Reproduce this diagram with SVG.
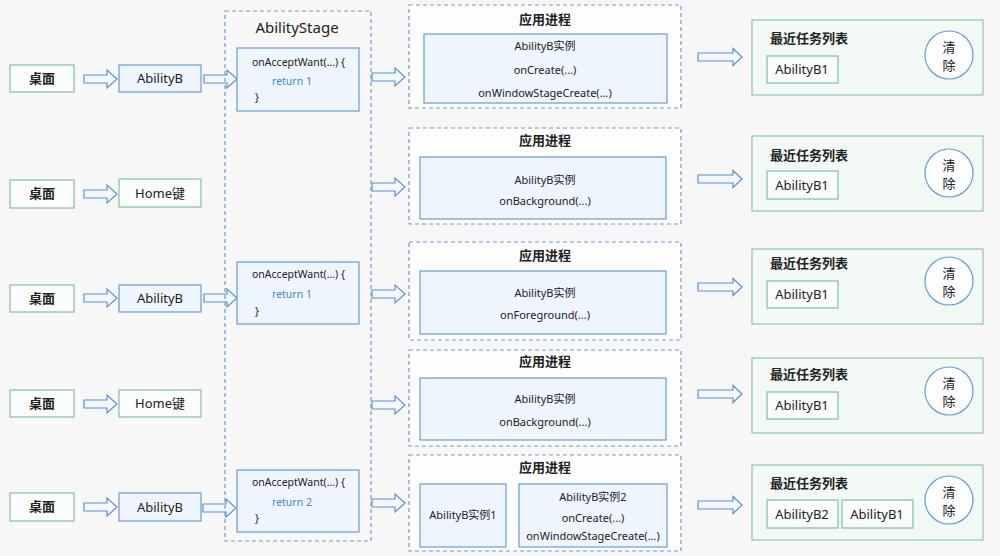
<svg xmlns="http://www.w3.org/2000/svg" width="1000" height="556" viewBox="0 0 1000 556">
<defs>
<style>
text{font-family:"Noto Sans","Noto Sans CJK SC",sans-serif;fill:#222;}
.gbox{fill:#fbfdfc;stroke:#80c0a0;stroke-width:1.2;}
.bbox{fill:#eef5fd;stroke:#6a9bd3;stroke-width:1.2;}
.sdash{fill:none;stroke:#6a9bd3;stroke-width:1.2;stroke-dasharray:4 3;}
.pdash{fill:#fdfdfe;stroke:#6a9bd3;stroke-width:1.2;stroke-dasharray:4 3;}
.rbox{fill:#f2f9f5;stroke:#8cc7aa;stroke-width:1.2;}
.tbox{fill:#f9fcfa;stroke:#7fbf9e;stroke-width:1.2;}
.circ{fill:#fbfdfe;stroke:#6a9bd3;stroke-width:1.2;}
.arr{fill:#f3f8fe;stroke:#5d90d0;stroke-width:1.2;}
.lbl{font-size:13px;text-anchor:middle;}
.cn{font-size:13px;text-anchor:middle;font-weight:600;}
.code{font-size:10.5px;}
.ret{font-size:10.5px;fill:#3f86d6;}
.ptxt{font-size:11px;text-anchor:middle;}
.ttl{font-size:13px;text-anchor:middle;font-weight:600;}
.rttl{font-size:13px;font-weight:600;}
</style>
<path id="sa" d="M0,-4 H23 V-9 L33,0 L23,9 V4 H0 Z"/>
<path id="la" d="M0,-4 H35 V-8.5 L44,0 L35,8.5 V4 H0 Z"/>
</defs>
<rect width="1000" height="556" fill="#f7f7f7"/>

<g id="connectors">
<use href="#sa" class="arr" x="84" y="79"/>
<use href="#sa" class="arr" x="84" y="194"/>
<use href="#sa" class="arr" x="84" y="298"/>
<use href="#sa" class="arr" x="84" y="404"/>
<use href="#sa" class="arr" x="84" y="507"/>
<use href="#sa" class="arr" x="204" y="79"/>
<use href="#sa" class="arr" x="204" y="298"/>
<use href="#sa" class="arr" x="203" y="508"/>
<use href="#sa" class="arr" x="372" y="77"/>
<use href="#sa" class="arr" x="372" y="187"/>
<use href="#sa" class="arr" x="372" y="294"/>
<use href="#sa" class="arr" x="372" y="405"/>
<use href="#sa" class="arr" x="372" y="503"/>
<use href="#la" class="arr" x="698" y="57"/>
<use href="#la" class="arr" x="698" y="179"/>
<use href="#la" class="arr" x="698" y="287"/>
<use href="#la" class="arr" x="698" y="394"/>
<use href="#la" class="arr" x="698" y="505"/>
</g>

<g id="desk1"><rect class="gbox" x="10" y="65" width="64" height="27"/><text class="cn" x="42" y="83">桌面</text></g>
<g id="desk2"><rect class="gbox" x="10" y="180" width="64" height="28"/><text class="cn" x="42" y="198">桌面</text></g>
<g id="desk3"><rect class="gbox" x="10" y="285" width="64" height="27"/><text class="cn" x="42" y="303">桌面</text></g>
<g id="desk4"><rect class="gbox" x="10" y="390" width="64" height="27"/><text class="cn" x="42" y="408">桌面</text></g>
<g id="desk5"><rect class="gbox" x="10" y="493" width="64" height="28"/><text class="cn" x="42" y="511">桌面</text></g>

<g id="abilityB1"><rect class="bbox" x="119" y="65" width="82" height="27"/><text class="lbl" x="160" y="83">AbilityB</text></g>
<g id="home1"><rect class="gbox" x="119" y="179" width="82" height="28"/><text class="lbl" x="160" y="198">Home键</text></g>
<g id="abilityB2"><rect class="bbox" x="119" y="285" width="82" height="27"/><text class="lbl" x="160" y="303">AbilityB</text></g>
<g id="home2"><rect class="gbox" x="119" y="390" width="82" height="27"/><text class="lbl" x="160" y="408">Home键</text></g>
<g id="abilityB3"><rect class="bbox" x="119" y="493" width="82" height="28"/><text class="lbl" x="160" y="512">AbilityB</text></g>

<g id="abilityStage">
<rect class="sdash" x="225" y="11" width="146" height="530"/>
<text x="297" y="33" style="font-size:15px;text-anchor:middle;">AbilityStage</text>
</g>
<g id="accept1"><rect class="bbox" x="237" y="48" width="122" height="63"/>
<text class="code" x="252" y="66">onAcceptWant(...) {</text><text class="ret" x="272" y="85">return 1</text><text class="code" x="255" y="101">}</text></g>
<g id="accept2"><rect class="bbox" x="237" y="262" width="122" height="62"/>
<text class="code" x="252" y="278">onAcceptWant(...) {</text><text class="ret" x="272" y="298">return 1</text><text class="code" x="255" y="315">}</text></g>
<g id="accept3"><rect class="bbox" x="237" y="470" width="122" height="62"/>
<text class="code" x="252" y="486">onAcceptWant(...) {</text><text class="ret" x="272" y="506">return 2</text><text class="code" x="255" y="522">}</text></g>

<g id="proc1"><rect class="pdash" x="409" y="5" width="272" height="103"/>
<text class="ttl" x="545" y="24">应用进程</text>
<rect class="bbox" x="424" y="34" width="243" height="69"/>
<text class="ptxt" x="545" y="50">AbilityB实例</text>
<text class="ptxt" x="545" y="74">onCreate(...)</text>
<text class="ptxt" x="545" y="97">onWindowStageCreate(...)</text></g>

<g id="proc2"><rect class="pdash" x="409" y="128" width="272" height="96"/>
<text class="ttl" x="545" y="145">应用进程</text>
<rect class="bbox" x="420" y="157" width="246" height="62"/>
<text class="ptxt" x="545" y="184">AbilityB实例</text>
<text class="ptxt" x="545" y="205">onBackground(...)</text></g>

<g id="proc3"><rect class="pdash" x="409" y="242" width="272" height="98"/>
<text class="ttl" x="545" y="260">应用进程</text>
<rect class="bbox" x="420" y="271" width="246" height="63"/>
<text class="ptxt" x="545" y="297">AbilityB实例</text>
<text class="ptxt" x="545" y="319">onForeground(...)</text></g>

<g id="proc4"><rect class="pdash" x="409" y="350" width="272" height="96"/>
<text class="ttl" x="545" y="366">应用进程</text>
<rect class="bbox" x="420" y="378" width="246" height="62"/>
<text class="ptxt" x="545" y="403">AbilityB实例</text>
<text class="ptxt" x="545" y="426">onBackground(...)</text></g>

<g id="proc5"><rect class="pdash" x="409" y="455" width="272" height="96"/>
<text class="ttl" x="545" y="472">应用进程</text>
<rect class="bbox" x="420" y="484" width="86" height="63"/>
<text class="ptxt" x="463" y="519">AbilityB实例1</text>
<rect class="bbox" x="519" y="484" width="148" height="63"/>
<text class="ptxt" x="593" y="501">AbilityB实例2</text>
<text class="ptxt" x="593" y="522">onCreate(...)</text>
<text class="ptxt" x="593" y="540">onWindowStageCreate(...)</text></g>

<g id="recent1"><rect class="rbox" x="752" y="20" width="231" height="75"/>
<text class="rttl" x="770" y="43">最近任务列表</text>
<rect class="tbox" x="767" y="56" width="71" height="27"/><text class="lbl" x="802" y="74">AbilityB1</text>
<circle class="circ" cx="949" cy="55" r="24"/><text class="lbl" x="949" y="52">清</text><text class="lbl" x="949" y="70">除</text></g>

<g id="recent2"><rect class="rbox" x="752" y="136" width="231" height="75"/>
<text class="rttl" x="770" y="160">最近任务列表</text>
<rect class="tbox" x="767" y="171" width="71" height="28"/><text class="lbl" x="802" y="190">AbilityB1</text>
<circle class="circ" cx="949" cy="173" r="24"/><text class="lbl" x="949" y="170">清</text><text class="lbl" x="949" y="188">除</text></g>

<g id="recent3"><rect class="rbox" x="752" y="249" width="231" height="75"/>
<text class="rttl" x="770" y="268">最近任务列表</text>
<rect class="tbox" x="767" y="281" width="71" height="27"/><text class="lbl" x="802" y="299">AbilityB1</text>
<circle class="circ" cx="949" cy="281" r="24"/><text class="lbl" x="949" y="278">清</text><text class="lbl" x="949" y="296">除</text></g>

<g id="recent4"><rect class="rbox" x="752" y="358" width="231" height="75"/>
<text class="rttl" x="770" y="379">最近任务列表</text>
<rect class="tbox" x="767" y="392" width="71" height="27"/><text class="lbl" x="802" y="410">AbilityB1</text>
<circle class="circ" cx="949" cy="391" r="24"/><text class="lbl" x="949" y="388">清</text><text class="lbl" x="949" y="406">除</text></g>

<g id="recent5"><rect class="rbox" x="752" y="465" width="231" height="75"/>
<text class="rttl" x="770" y="488">最近任务列表</text>
<rect class="tbox" x="767" y="500" width="71" height="28"/><text class="lbl" x="802" y="519">AbilityB2</text>
<rect class="tbox" x="842" y="500" width="71" height="28"/><text class="lbl" x="877" y="519">AbilityB1</text>
<circle class="circ" cx="949" cy="500" r="24"/><text class="lbl" x="949" y="497">清</text><text class="lbl" x="949" y="515">除</text></g>
</svg>
